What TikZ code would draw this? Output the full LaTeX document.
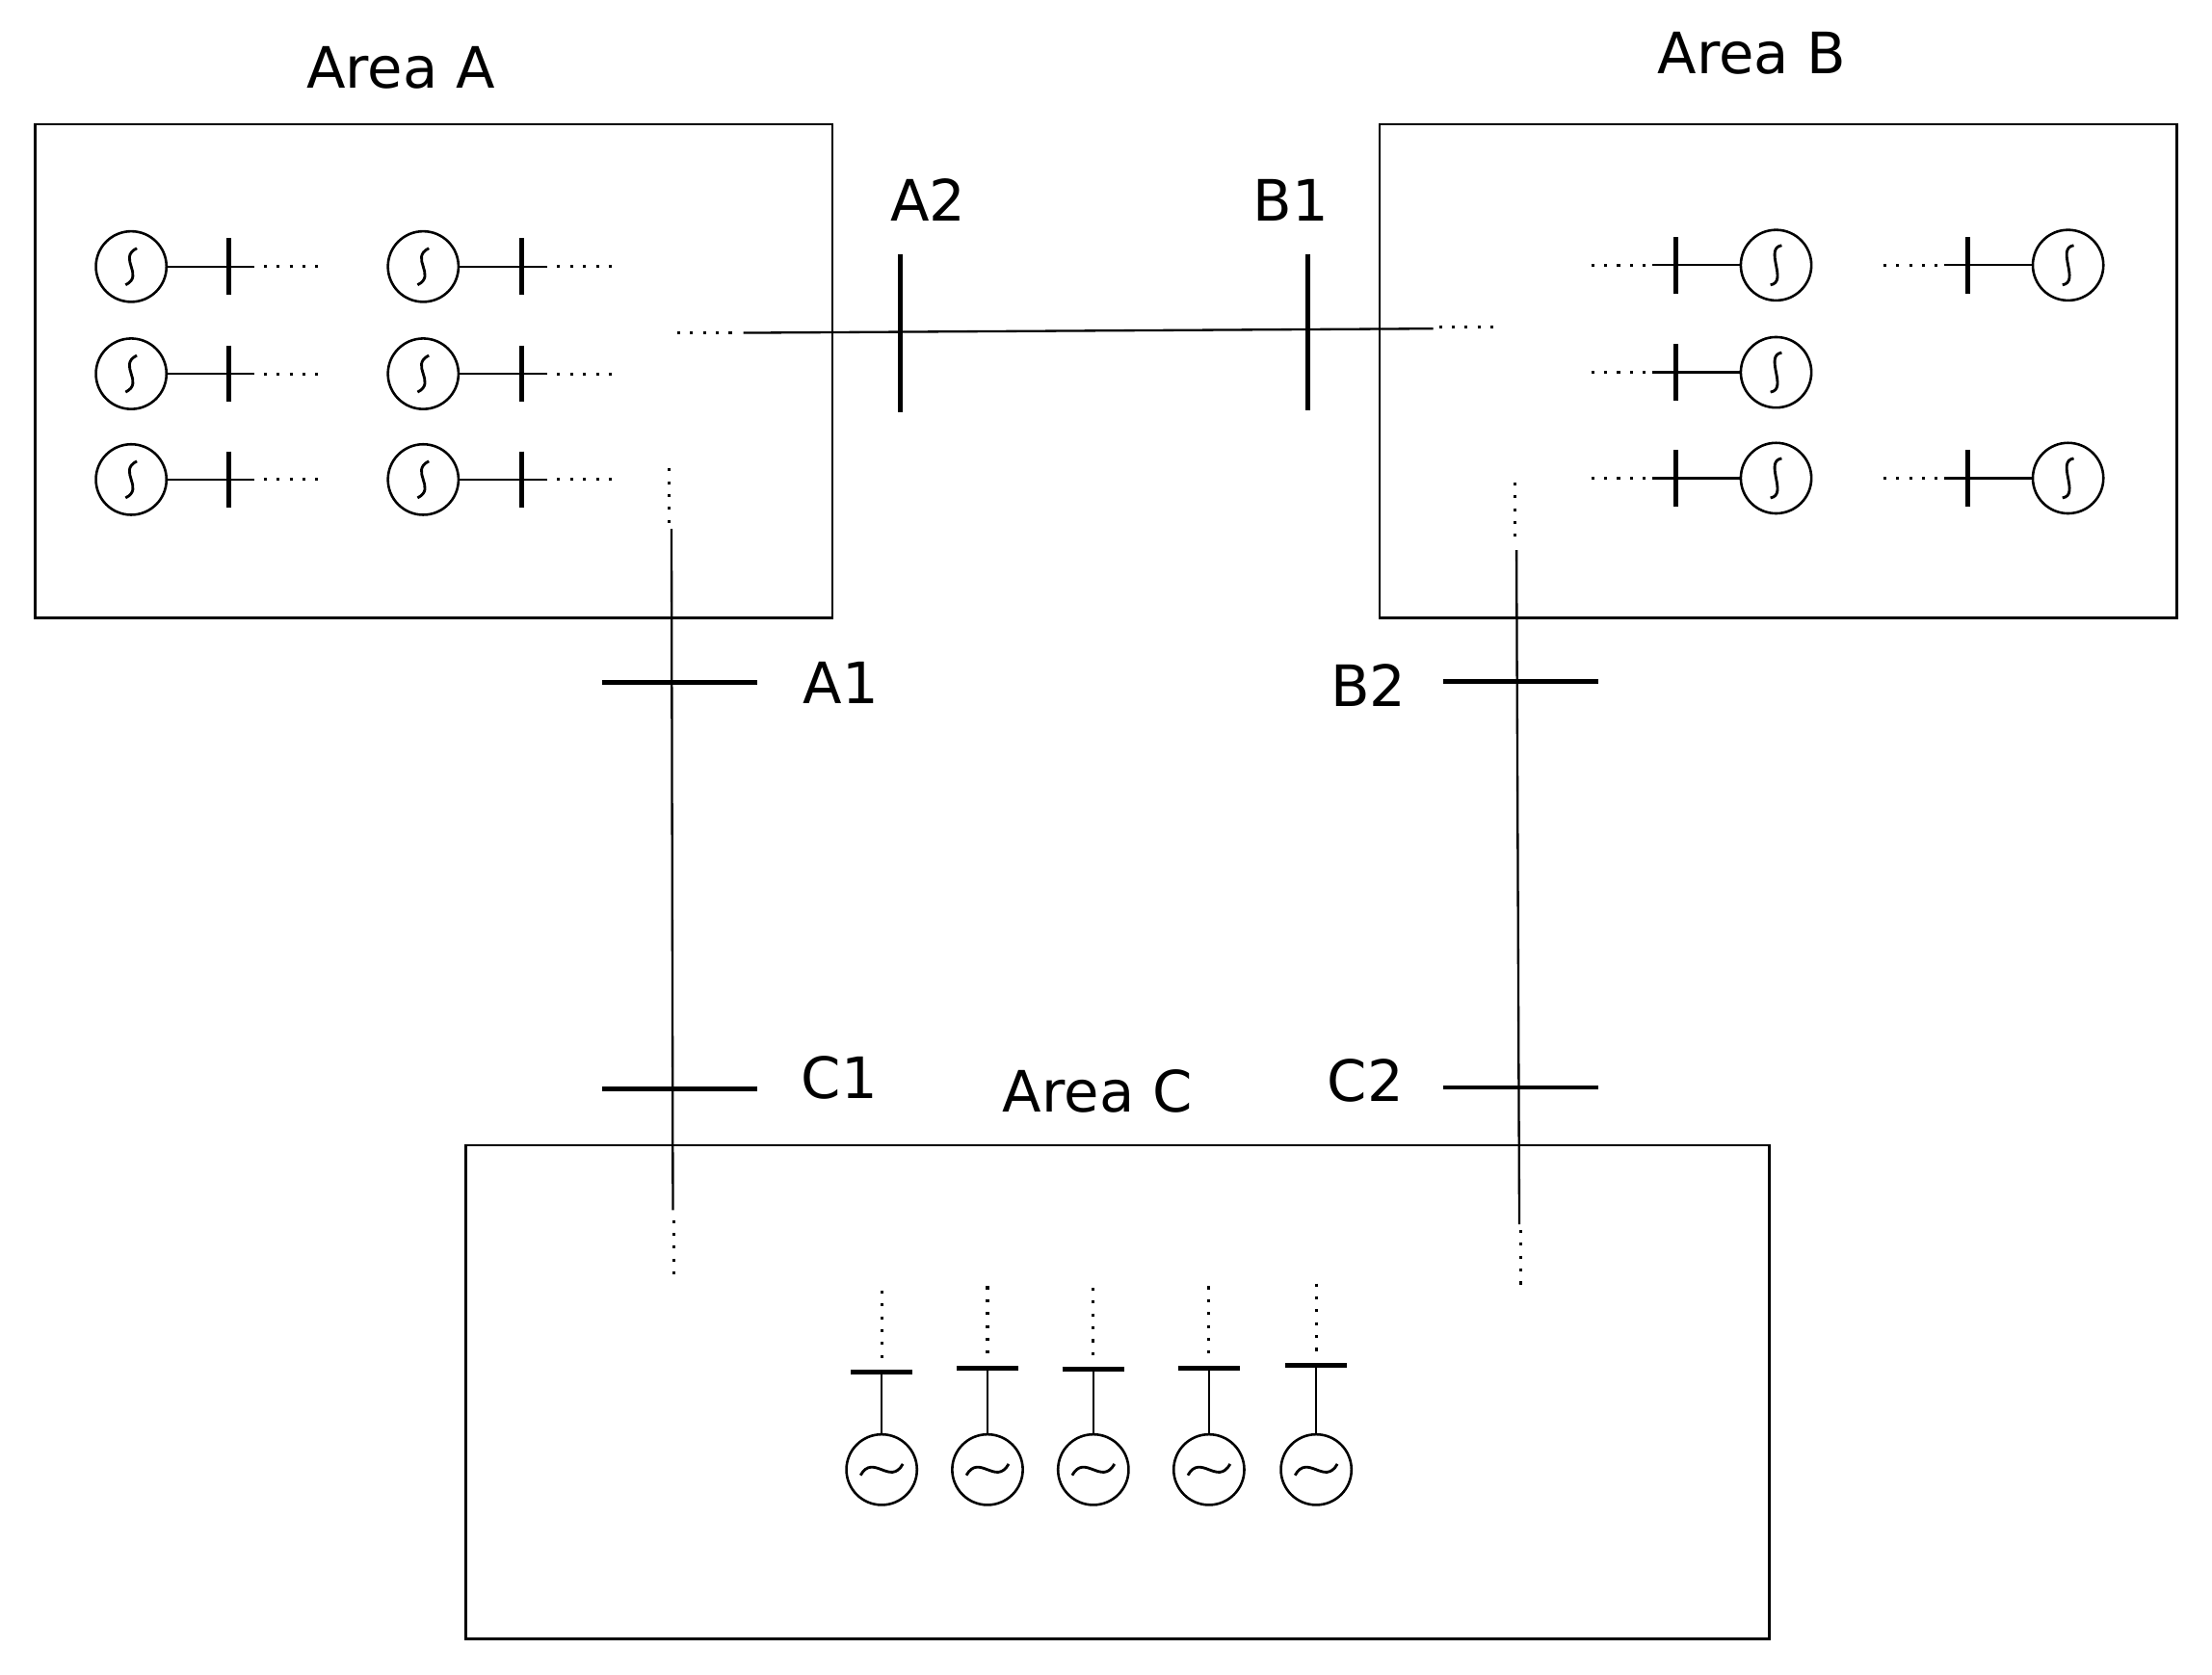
\documentclass[tikz,border=0pt]{standalone}
\usepackage{fontspec}
\setmainfont{DejaVu Sans}
\begin{document}
\begin{tikzpicture}[x=0.01cm,y=-0.01cm,
  thin line/.style={line width=0.45pt},
  bus/.style={line width=0.95pt},
  dots/.style={line width=0.6pt,dotted},
  box/.style={draw,line width=0.5pt},
  lbl/.style={font=\fontsize{11.5}{13}\selectfont},
  gen/.style={circle,draw,line width=0.5pt,minimum size=0.5cm,inner sep=0pt}]
\useasboundingbox (0,0) rectangle (1568,1187);
% boxes
\draw[box] (25,88) rectangle (590,438);
\draw[box] (978,88) rectangle (1543,438);
\draw[box] (330,812) rectangle (1254,1162);
\node[lbl] (la) at (284,48) {Area A};
\node[lbl] (lb) at (1242,38) {Area B};
\node[lbl] (lc) at (778,774) {Area C};
% A2-B1 tie
\coordinate (a2t) at (638,180); \coordinate (a2b) at (638,292);
\coordinate (b1t) at (927,180); \coordinate (b1b) at (927,291);
\draw[bus] (a2t) -- (a2b); \draw[bus] (b1t) -- (b1b);
\node[lbl] (la2) at (658,142) {A2};
\node[lbl] (lb1) at (915,142) {B1};
\coordinate (ta) at (527,236); \coordinate (tb) at (1016,233);
\draw[thin line] (ta) -- (tb);
\draw[dots] (480,236) -- (522,236);
\draw[dots] (1020,232) -- (1062,232);
% A1-C1 tie
\coordinate (a1l) at (427,484); \coordinate (a1r) at (537,484);
\coordinate (c1l) at (427,772); \coordinate (c1r) at (537,772);
\draw[bus] (a1l) -- (a1r); \draw[bus] (c1l) -- (c1r);
\node[lbl] (la1) at (596,484) {A1};
\node[lbl] (lc1) at (595,764) {C1};
\coordinate (v1t) at (476,375); \coordinate (v1b) at (477,858);
\draw[thin line] (v1t) -- (v1b);
\draw[dots] (474,332) -- (474,372);
\draw[dots] (478,865) -- (478,907);
% B2-C2 tie
\coordinate (b2l) at (1023,483); \coordinate (b2r) at (1133,483);
\coordinate (c2l) at (1023,771); \coordinate (c2r) at (1133,771);
\draw[bus] (b2l) -- (b2r); \draw[bus] (c2l) -- (c2r);
\node[lbl] (lb2) at (970,486) {B2};
\node[lbl] (lc2) at (968,766) {C2};
\coordinate (v2t) at (1075,390); \coordinate (v2b) at (1077,868);
\draw[thin line] (v2t) -- (v2b);
\draw[dots] (1074,342) -- (1074,385);
\draw[dots] (1078,872) -- (1078,914);
% Area A generators
\foreach \gx/\bx/\n in {93/162/1, 300/370/2}{
  \foreach \gy/\m in {189/1,265/2,340/3}{
    \node[gen] (ga\n\m) at (\gx,\gy) {};
    \draw[line width=0.55pt] (\gx+4,\gy-13) .. controls (\gx-10,\gy-6) and (\gx+10,\gy+6) .. (\gx-4,\gy+13);
    \coordinate (bt\n\m) at (\bx,\gy-20); \coordinate (bb\n\m) at (\bx,\gy+20);
    \draw[bus] (bt\n\m) -- (bb\n\m);
    \coordinate (be\n\m) at (\bx+18,\gy);
    \draw[thin line] (ga\n\m) -- (be\n\m);
    \draw[dots] (\bx+25,\gy) -- (\bx+65,\gy);
  }}
% Area B generators
\foreach \gx/\bx/\gy/\k in {1259/1188/188/1,1259/1188/264/2,1259/1188/339/3,1466/1395/188/4,1466/1395/339/5}{
    \node[gen] (gb\k) at (\gx,\gy) {};
    \draw[line width=0.55pt] (\gx+4,\gy-14) .. controls (\gx-9,\gy-12) and (\gx+9,\gy+12) .. (\gx-4,\gy+14);
    \draw[bus] (\bx,\gy-20) -- (\bx,\gy+20);
    \coordinate (bbe\k) at (\bx-17,\gy);
    \draw[thin line] (gb\k) -- (bbe\k);
    \draw[dots] (\bx-60,\gy) -- (\bx-20,\gy);
}
% Area C generators
\foreach \gx/\by/\k in {625/973/1,700/970/2,775/971/3,857/970/4,933/968/5}{
    \node[gen] (gc\k) at (\gx,1042) {};
    \draw[line width=0.55pt] (\gx-15,1046) .. controls (\gx-6,1030) and (\gx+6,1054) .. (\gx+15,1038);
    \draw[bus] (\gx-22,\by) -- (\gx+22,\by);
    \coordinate (cs\k) at (\gx,\by);
    \draw[thin line] (gc\k) -- (cs\k);
    \draw[dots] (\gx,\by-58) -- (\gx,\by-8);
}
\end{tikzpicture}
\end{document}
